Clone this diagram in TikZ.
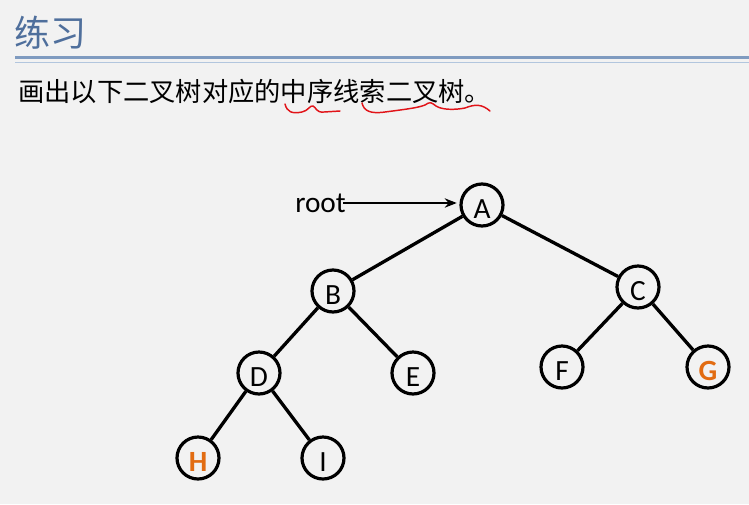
\documentclass[tikz,border=0pt]{standalone}
\usepackage{fontspec}
\setmainfont{Carlito}
\newfontfamily\cjk{Noto Sans CJK SC}
\usetikzlibrary{arrows.meta}
\definecolor{SlideBg}{RGB}{242,242,242}
\definecolor{TitleBlue}{RGB}{79,111,156}
\definecolor{RuleBlue}{RGB}{127,155,192}
\definecolor{RuleLight}{RGB}{178,198,222}
\definecolor{NoteRed}{RGB}{225,20,25}
\definecolor{HiOrange}{RGB}{226,108,18}

\begin{document}
\begin{tikzpicture}[x=0.75pt, y=-0.75pt,
                vertex/.style={draw, circle, line width=2.4pt, minimum size=31.5pt, inner sep=0pt, text height=20pt, text depth=0pt, font=\fontsize{22}{22}\selectfont},
                hi/.style={vertex, text=HiOrange, font=\fontsize{22}{22}\selectfont\bfseries},
                edge/.style={line width=2.5pt},
                squiggle/.style={draw=NoteRed, line width=1.1pt, line cap=round, line join=round}
            ]
                % Slide background
                \fill[SlideBg] (0,0) rectangle (749,504);
                \useasboundingbox (0,0) rectangle (749,504);

                % Title and rules
                \node[anchor=west, inner sep=0pt, font=\cjk\fontsize{27}{27}\selectfont, text=TitleBlue] (title) at (14,33) {练习};
                \draw[RuleBlue, line width=2pt] (15,57.5) -- (749,57.5);
                \draw[RuleLight, line width=1.2pt] (15,62.5) -- (749,62.5);

                % Task text
                \node[anchor=west, inner sep=0pt, font=\cjk\fontsize{19.7}{20}\selectfont] (task) at (18,92) {画出以下二叉树对应的中序线索二叉树。};
                \draw[squiggle] (285,104) .. controls (287,112) and (292,114) .. (302,112)
                    .. controls (308,111) and (310,105) .. (313,106)
                    .. controls (316,107) and (316,113) .. (324,112) -- (340,111);
                \draw[squiggle] (362,103) .. controls (364,111) and (370,114) .. (385,112)
                    .. controls (400,110) and (418,108) .. (425,105)
                    .. controls (430,101) and (432,103) .. (436,106)
                    .. controls (442,110) and (455,110) .. (465,108)
                    .. controls (475,104) and (482,104) .. (490,111);

                % Tree
                \node[vertex] (A) at (482,205) {A};
                \node[vertex] (B) at (333,291) {B};
                \node[vertex] (C) at (638,287) {C};
                \node[vertex] (D) at (259,373) {D};
                \node[vertex] (E) at (413,373) {E};
                \node[vertex] (F) at (562,367) {F};
                \node[hi] (G) at (708,367) {G};
                \node[hi] (H) at (198,458) {H};
                \node[vertex] (I) at (323,458) {I};

                \draw[edge] (A) -- (B);
                \draw[edge] (A) -- (C);
                \draw[edge] (B) -- (D);
                \draw[edge] (B) -- (E);
                \draw[edge] (C) -- (F);
                \draw[edge] (C) -- (G);
                \draw[edge] (D) -- (H);
                \draw[edge] (D) -- (I);

                % Root pointer
                \node[anchor=west, inner sep=0pt, font=\fontsize{22}{22}\selectfont] (rootlbl) at (295,203) {root};
                \coordinate (rootend) at (343,203);
                \draw[line width=1.9pt, -{Stealth[length=9pt, width=7pt]}, shorten >=2pt] (rootend) -- (A.west |- rootend);
            \end{tikzpicture}
\end{document}
